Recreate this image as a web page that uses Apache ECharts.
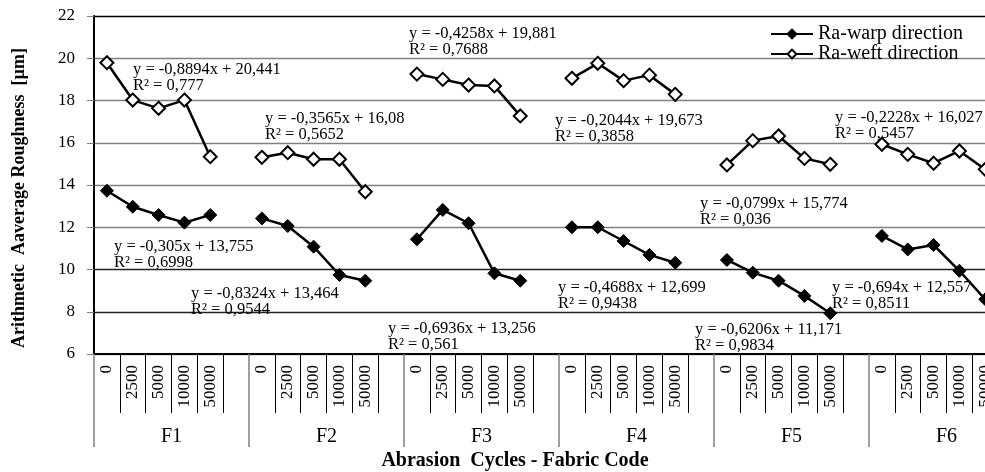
<!DOCTYPE html>
<html>
<head>
<meta charset="utf-8">
<script src="https://cdn.jsdelivr.net/npm/echarts@6/dist/echarts.min.js"></script>
<style>
html,body{margin:0;padding:0;background:#fff;}
#chart{width:985px;height:472px;}
</style>
</head>
<body>
<div id="chart"></div>
<script>
// ---- data ----
const fabricCodes = ['F1', 'F2', 'F3', 'F4', 'F5', 'F6'];
const cycleLabels = ['0', '2500', '5000', '10000', '50000', ''];
const yTicks = [6, 8, 10, 12, 14, 16, 18, 20, 22];

const warpF1 = [13.73, 12.97, 12.58, 12.22, 12.58];
const warpF2 = [12.42, 12.06, 11.08, 9.74, 9.47];
const warpF3 = [11.43, 12.82, 12.19, 9.82, 9.47];
const warpF4 = [12.00, 12.00, 11.35, 10.69, 10.32];
const warpF5 = [10.45, 9.85, 9.47, 8.75, 7.93];
const warpF6 = [11.59, 10.95, 11.16, 9.94, 8.59];

const weftF1 = [19.79, 18.02, 17.63, 18.02, 15.34];
const weftF2 = [15.31, 15.53, 15.22, 15.22, 13.68];
const weftF3 = [19.25, 19.00, 18.73, 18.69, 17.27];
const weftF4 = [19.05, 19.76, 18.94, 19.20, 18.29];
const weftF5 = [14.95, 16.10, 16.32, 15.26, 14.98];
const weftF6 = [15.93, 15.45, 15.03, 15.61, 14.74];

const trendTexts = [
  'y = -0,8894x + 20,441\nR² = 0,777',
  'y = -0,3565x + 16,08\nR² = 0,5652',
  'y = -0,4258x + 19,881\nR² = 0,7688',
  'y = -0,2044x + 19,673\nR² = 0,3858',
  'y = -0,0799x + 15,774\nR² = 0,036',
  'y = -0,2228x + 16,027\nR² = 0,5457',
  'y = -0,305x + 13,755\nR² = 0,6998',
  'y = -0,8324x + 13,464\nR² = 0,9544',
  'y = -0,6936x + 13,256\nR² = 0,561',
  'y = -0,4688x + 12,699\nR² = 0,9438',
  'y = -0,6206x + 11,171\nR² = 0,9834',
  'y = -0,694x + 12,557\nR² = 0,8511'
];

// ---- layout (positions kept separate from data) ----
const trendPos = [
  [133, 61], [265, 110], [409, 25], [555, 112], [700, 195], [835, 109],
  [114, 238], [191, 285], [388, 320], [558, 279], [695, 321], [832, 279]
];

const FONT = '"Liberation Serif", "Times New Roman", serif';

function flatten(groups) {
  const out = [];
  groups.forEach(g => { g.forEach(v => out.push(v)); out.push(null); });
  return out;
}
const warpData = flatten([warpF1, warpF2, warpF3, warpF4, warpF5, warpF6]);
const weftData = flatten([weftF1, weftF2, weftF3, weftF4, weftF5, weftF6]);
const catLabels = [];
fabricCodes.forEach(() => cycleLabels.forEach(c => catLabels.push(c)));

const splitColors = yTicks.map(v => (v === 22 ? '#000' : (v === 8 || v === 10 ? '#222' : '#808080')));

const graphics = trendTexts.map((t, i) => ({
  type: 'text',
  left: trendPos[i][0],
  top: trendPos[i][1],
  z: 10,
  style: { text: t, font: '16.5px ' + FONT, fill: '#000', lineHeight: 16.5 }
}));
graphics.push({
  type: 'text',
  x: 19, y: 198, rotation: Math.PI / 2,
  style: { text: 'Arithmetic  Aaverage Roughness  [µm]', font: 'bold 18px ' + FONT, fill: '#000',
           textAlign: 'center', textVerticalAlign: 'middle' }
});
graphics.push({
  type: 'text',
  x: 515, y: 461,
  style: { text: 'Abrasion  Cycles - Fabric Code', font: 'bold 20px ' + FONT, fill: '#000',
           textAlign: 'center', textVerticalAlign: 'middle' }
});

const chart = echarts.init(document.getElementById('chart'), null, { renderer: 'canvas' });
chart.setOption({
  animation: false,
  backgroundColor: '#fff',
  textStyle: { fontFamily: FONT },
  grid: { left: 94, top: 16, width: 930, height: 338, containLabel: false, outerBoundsMode: 'none' },
  legend: {
    orient: 'vertical',
    left: 765, top: 19,
    itemWidth: 42, itemHeight: 11, itemGap: 0,
    textStyle: { fontFamily: FONT, fontSize: 20, color: '#000' },
    data: ['Ra-warp direction', 'Ra-weft direction']
  },
  xAxis: [
    {
      type: 'category',
      data: catLabels,
      position: 'bottom',
      boundaryGap: true,
      axisLine: { show: true, lineStyle: { color: '#000', width: 2 } },
      axisTick: { show: true, length: 59, interval: (idx) => idx % 6 !== 0, lineStyle: { color: '#000', width: 1 } },
      axisLabel: { interval: 0, rotate: 90, fontSize: 17, margin: 11, color: '#000', fontFamily: FONT },
      splitLine: { show: false }
    },
    {
      type: 'category',
      data: fabricCodes,
      position: 'bottom',
      boundaryGap: true,
      axisLine: { show: false },
      axisTick: { show: true, length: 93, lineStyle: { color: '#808080', width: 1.5 } },
      axisLabel: { interval: 0, fontSize: 20, margin: 73, color: '#000', fontFamily: FONT },
      splitLine: { show: false }
    }
  ],
  yAxis: {
    type: 'value',
    min: 6, max: 22, interval: 2,
    axisLine: { show: true, lineStyle: { color: '#000', width: 2 } },
    axisTick: { show: true, length: 7, lineStyle: { color: '#808080' } },
    axisLabel: { fontSize: 17, margin: 19, color: '#000', fontFamily: FONT },
    splitLine: { show: true, lineStyle: { color: splitColors, width: 1.3 } }
  },
  series: [
    {
      name: 'Ra-warp direction',
      type: 'line',
      xAxisIndex: 0,
      data: warpData,
      connectNulls: false,
      symbol: 'diamond',
      symbolSize: 13,
      lineStyle: { color: '#000', width: 2.5 },
      itemStyle: { color: '#000', borderColor: '#000', borderWidth: 1 },
      z: 5
    },
    {
      name: 'Ra-weft direction',
      type: 'line',
      xAxisIndex: 0,
      data: weftData,
      connectNulls: false,
      symbol: 'diamond',
      symbolSize: 13,
      lineStyle: { color: '#000', width: 2.5 },
      itemStyle: { color: '#fff', borderColor: '#000', borderWidth: 2 },
      z: 5
    }
  ],
  graphic: graphics
});
</script>
</body>
</html>
